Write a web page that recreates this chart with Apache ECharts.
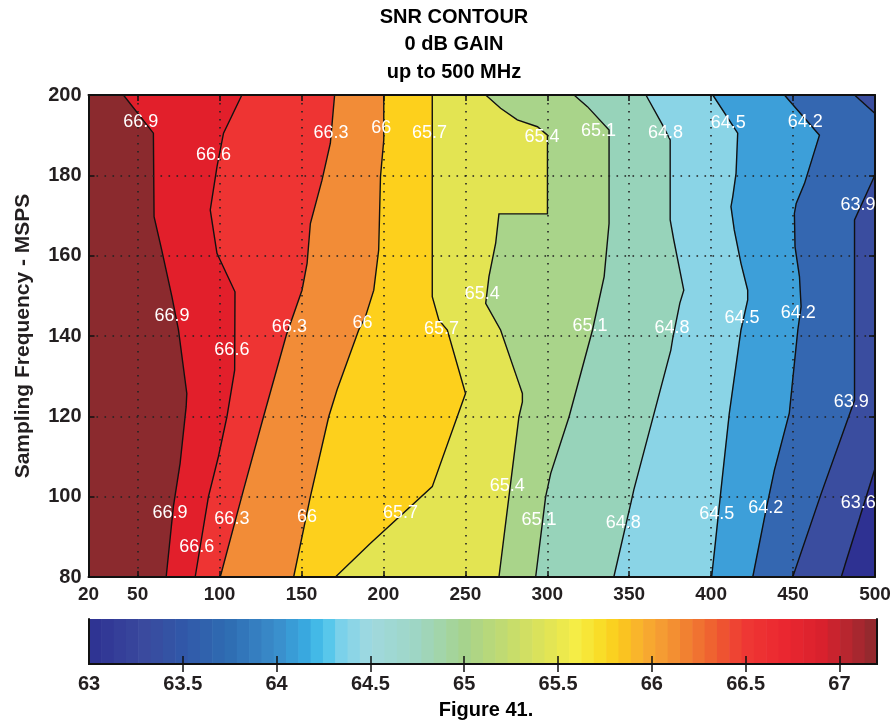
<!DOCTYPE html>
<html><head><meta charset="utf-8">
<script src="https://cdn.jsdelivr.net/npm/echarts@6/dist/echarts.min.js"></script>
<style>html,body{margin:0;padding:0;background:#fff}#c{width:896px;height:724px}</style>
</head><body><div id="c"></div>
<script>
// ---- axis ticks ----
const xTicks = [20, 50, 100, 150, 200, 250, 300, 350, 400, 450, 500];
const yTicks = [80, 100, 120, 140, 160, 180, 200];
const cbTicks = [63, 63.5, 64, 64.5, 65, 65.5, 66, 66.5, 67];

// ---- contour lines (x = input freq MHz, y = sampling freq MSPS), bottom -> top ----
const c669 = [[67.4,80],[71.8,97.5],[75.9,108.3],[79.6,122.4],[80,125.7],[74.9,141.5],[70.9,149.8],[64.7,161.4],[60,169.7],[59.6,190.5],[41.3,200]];
const c666 = [[85.1,80],[93.2,100],[99.3,110],[104.5,119.9],[109.2,131.5],[109.4,151],[98.4,160.6],[94.3,171.4],[98.4,182.1],[102.4,190.5],[113.6,200]];
const c663 = [[100.4,80],[114.6,101.7],[126.8,119.9],[140.7,140.2],[150.3,151.4],[153.4,158.1],[155.4,168],[162.5,178.8],[167.6,188],[170.2,200]];
const c660 = [[145.2,80],[155.4,100],[166.6,119.9],[171.7,126.6],[184.9,141.5],[189,144.8],[194.1,151.4],[197.1,161.4],[198.2,179.7],[200.2,188.8],[200.2,200]];
const c657 = [[170.7,80],[192.1,88.4],[229.8,102.5],[250.1,125.7],[239,141.5],[233.8,144],[229.8,149.8],[229.8,200]];
const c654 = [[270.5,80],[276.6,100],[282.7,119.9],[284.8,123.6],[284.8,125.7],[282.7,128.2],[271.5,141.5],[262.4,148.1],[264.4,154.8],[268.5,163.1],[270.5,170.4],[300.1,170.4],[300.1,190],[294,192.1],[281.7,193.8],[271.5,196.7],[262.4,200]];
const c651 = [[292.9,80],[299,100],[302.1,105.8],[313.3,119.9],[327.6,141.5],[334.7,154.8],[337.7,168],[337.7,191.3],[324.5,197.1],[316.3,200]];
const c648 = [[340.6,80],[351,98.4],[352.8,101.7],[375.4,136.5],[376.6,139.5],[380.9,148.2],[383.3,151.4],[377.2,163.9],[375,168.9],[375,188.8],[370.4,192.5],[360.2,200]];
const c645 = [[400.3,80],[402.3,87.5],[406,101.7],[411.1,120.8],[418.2,141.5],[422.3,149],[422.3,151.4],[418.2,158.1],[414.1,166.4],[412.1,172.2],[413.2,174.7],[415.2,180.5],[416.2,190.5],[401,200]];
const c642 = [[425.4,80],[433.5,96.7],[438.6,106.6],[447.7,120.8],[450.8,133.2],[452.9,141.5],[454.9,147.3],[453.9,154.8],[451.2,162.2],[450.8,170.5],[451.9,173],[457,178],[462,184.6],[466.1,190],[444.7,200]];
const c639a = [[487.5,200],[500,195.4]];
const c639b = [[449.8,80],[467.1,100.7],[487.5,124],[487.5,168.9],[500,180.1]];
const c636 = [[479.4,80],[500,107]];

const contours = [c669, c666, c663, c660, c657, c654, c651, c648, c645, c642, c639a, c639b, c636];
// fill colour of the region on the lower-SNR (right) side of each contour
const fillColors = ['#E21F2B','#EE3433','#F28C37','#FDD01C','#E3E452','#A9D48A','#97D3BA','#8AD4E6','#3D9FD9','#3467B1','#3A4D9F','#3A4D9F','#2E3192'];
const topColor = '#8B2A2E';

// ---- contour labels ----
const labelText = ['66.9','66.6','66.3','66','65.7','65.4','65.1','64.8','64.5','64.2','63.9',
                   '66.9','66.6','66.3','66','65.7','65.4','65.1','64.8','64.5','64.2','63.9',
                   '66.9','66.6','66.3','66','65.7','65.4','65.1','64.8','64.5','64.2','63.6'];
const labelX = [51.9,96.3,168,198.6,228.1,296.8,331.2,372.2,410.5,457.4,489.6,
                71,107.5,142.6,187.2,235.5,260.3,326,376.1,418.9,453.1,485.5,
                69.8,86.1,107.5,153.4,210.4,275.6,294.9,346.3,403.4,433.3,489.8];
const labelY = [193.3,185,190.5,191.8,190.5,189.5,191,190.5,193,193.3,172.6,
                145,136.5,142.2,143.2,141.7,150.4,142.5,142,144.5,145.7,123.6,
                95.9,87.5,94.4,94.9,95.9,102.7,94.2,93.4,95.7,97.2,98.4];

// ---- colour bar ----
const cbMin = 63, cbMax = 67.2, cbSteps = 64;
const cmapAt  = [63.00,63.30,63.50,63.75,64.00,64.15,64.25,64.35,64.50,64.75,65.00,65.25,65.45,65.60,65.72,65.82,65.95,66.05,66.20,66.35,66.50,66.70,66.90,67.05,67.20];
const cmapCol = ['#2E3192','#3A4A9E','#3158A8','#2F6DB3','#3A8DCB','#39A8DF','#48C2EC','#7ED2EA','#A0D9DF','#9ED6C4','#A6D38D','#C6DC6C','#E2E455','#F6EE45','#F9DE28','#FBCB1C','#F8AE2F','#F59C33','#F17E31','#EE5A30','#EE3834','#EB2730','#DA212D','#B5262F','#8C2A2E'];

function hex2rgb(h){return [parseInt(h.slice(1,3),16),parseInt(h.slice(3,5),16),parseInt(h.slice(5,7),16)];}
function cmap(v){
  if (v <= cmapAt[0]) return cmapCol[0];
  for (let i=1;i<cmapAt.length;i++){
    if (v <= cmapAt[i]){
      const t=(v-cmapAt[i-1])/(cmapAt[i]-cmapAt[i-1]);
      const a=hex2rgb(cmapCol[i-1]), b=hex2rgb(cmapCol[i]);
      return 'rgb('+a.map((c,k)=>Math.round(c+(b[k]-c)*t)).join(',')+')';
    }
  }
  return cmapCol[cmapCol.length-1];
}
const cbW = (cbMax-cbMin)/cbSteps;
const cbData = [], cbColors = [];
for (let k=0;k<cbSteps;k++){ cbData.push([cbMin+k*cbW, 0.5, k]); cbColors.push(cmap(cbMin+(k+0.5)*cbW)); }

const xMin = xTicks[0], xMax = xTicks[xTicks.length-1];
const yMin = yTicks[0], yMax = yTicks[yTicks.length-1];
function closeRight(pts){
  const f = pts[0], l = pts[pts.length-1];
  return pts.concat([[xMax, l[1]], [xMax, f[1]]]);
}

const FONT = 'Liberation Sans, Arial, sans-serif';
const TXT = '#231F20';
const chart = echarts.init(document.getElementById('c'), null, {renderer:'canvas'});

const frameLine = {show:true, lineStyle:{color:'#111', width:2}};
const dotted = {show:true, lineStyle:{color:'#222', width:1.6, type:[1.6,6.4]}};

chart.setOption({
  animation:false,
  backgroundColor:'#fff',
  graphic:[
    {type:'text', x:454, y:17, style:{text:'SNR CONTOUR', fill:'#000', fontSize:20, fontWeight:'bold', fontFamily:FONT, align:'center', verticalAlign:'middle', textAlign:'center', textVerticalAlign:'middle'}},
    {type:'text', x:454, y:44.5, style:{text:'0 dB GAIN', fill:'#000', fontSize:20, fontWeight:'bold', fontFamily:FONT, align:'center', verticalAlign:'middle', textAlign:'center', textVerticalAlign:'middle'}},
    {type:'text', x:454, y:72, style:{text:'up to 500 MHz', fill:'#000', fontSize:20, fontWeight:'bold', fontFamily:FONT, align:'center', verticalAlign:'middle', textAlign:'center', textVerticalAlign:'middle'}},
    {type:'text', x:486, y:710, style:{text:'Figure 41.', fill:'#000', fontSize:20, fontWeight:'bold', fontFamily:FONT, align:'center', verticalAlign:'middle', textAlign:'center', textVerticalAlign:'middle'}}
  ],
  grid:[
    {left:88.5, right:21, top:95, bottom:147, show:true, backgroundColor:topColor, borderWidth:0, outerBoundsMode:'none'},
    {left:89, right:19, top:619, height:45, show:false, outerBoundsMode:'none'}
  ],
  xAxis:[
    {gridIndex:0, type:'value', min:xMin, max:xMax, position:'bottom', z:5,
     axisLine:frameLine,
     axisTick:{show:true, inside:true, length:6, customValues:xTicks, lineStyle:{color:'#111', width:1.5}},
     axisLabel:{show:true, customValues:xTicks, margin:8, fontSize:19, fontWeight:'bold', fontFamily:FONT, color:TXT},
     splitLine:dotted},
    {gridIndex:0, type:'value', min:xMin, max:xMax, position:'top', z:5,
     axisLine:frameLine,
     axisTick:{show:true, inside:true, length:6, customValues:xTicks, lineStyle:{color:'#111', width:1.5}},
     axisLabel:{show:false}, splitLine:{show:false}},
    {gridIndex:1, type:'value', min:cbMin, max:cbMax, position:'bottom', z:5,
     axisLine:frameLine,
     axisTick:{show:true, inside:true, length:8, customValues:cbTicks.slice(1), lineStyle:{color:'#111', width:1.5}},
     axisLabel:{show:true, customValues:cbTicks, margin:10, fontSize:20, fontWeight:'bold', fontFamily:FONT, color:TXT},
     splitLine:{show:false}},
    {gridIndex:1, type:'value', min:cbMin, max:cbMax, position:'top', z:5,
     axisLine:frameLine,
     axisTick:{show:true, inside:true, length:8, customValues:cbTicks.slice(1), lineStyle:{color:'#111', width:1.5}},
     axisLabel:{show:false}, splitLine:{show:false}}
  ],
  yAxis:[
    {gridIndex:0, type:'value', min:yMin, max:yMax, interval:20, position:'left', z:5,
     name:'Sampling Frequency - MSPS', nameLocation:'middle', nameGap:55,
     nameTextStyle:{fontSize:21, fontWeight:'bold', fontFamily:FONT, color:TXT},
     axisLine:frameLine,
     axisTick:{show:true, inside:true, length:6, lineStyle:{color:'#111', width:1.5}},
     axisLabel:{show:true, margin:7, fontSize:20, fontWeight:'bold', fontFamily:FONT, color:TXT},
     splitLine:dotted},
    {gridIndex:0, type:'value', min:yMin, max:yMax, interval:20, position:'right', z:5,
     axisLine:frameLine,
     axisTick:{show:true, inside:true, length:6, lineStyle:{color:'#111', width:1.5}},
     axisLabel:{show:false}, splitLine:{show:false}},
    {gridIndex:1, type:'value', min:0, max:1, position:'left', z:5,
     axisLine:frameLine, axisTick:{show:false}, axisLabel:{show:false}, splitLine:{show:false}},
    {gridIndex:1, type:'value', min:0, max:1, position:'right', z:5,
     axisLine:frameLine, axisTick:{show:false}, axisLabel:{show:false}, splitLine:{show:false}}
  ],
  series:[
    {type:'custom', name:'fills', xAxisIndex:0, yAxisIndex:0, z:1, silent:true,
     data: contours.map((c,i)=>[c[0][0], c[0][1], i]),
     renderItem:function(params, api){
       const i = params.dataIndex;
       const pts = closeRight(contours[i]).map(p=>api.coord(p));
       return {type:'polygon', shape:{points:pts}, style:{fill:fillColors[i], stroke:fillColors[i], lineWidth:0.5}};
     }},
    {type:'custom', name:'contours', xAxisIndex:0, yAxisIndex:0, z:3, silent:true,
     data: contours.map((c,i)=>[c[0][0], c[0][1], i]),
     renderItem:function(params, api){
       const i = params.dataIndex;
       return {type:'polyline', shape:{points:contours[i].map(p=>api.coord(p))}, style:{stroke:'#111', lineWidth:1.4, fill:null}};
     }},
    {type:'custom', name:'labels', xAxisIndex:0, yAxisIndex:0, z:10, silent:true, clip:true,
     data: labelX.map((x,i)=>[x, labelY[i], i]),
     renderItem:function(params, api){
       const i = params.dataIndex;
       const p = api.coord([api.value(0), api.value(1)]);
       return {type:'text', x:p[0], y:p[1], z2:10,
         style:{text:labelText[i], fill:'#fff', fontSize:18, fontFamily:FONT, align:'center', verticalAlign:'middle', textAlign:'center', textVerticalAlign:'middle'}};
     }},
    {type:'custom', name:'colorbar', xAxisIndex:2, yAxisIndex:2, z:1, silent:true,
     data: cbData,
     renderItem:function(params, api){
       const k = params.dataIndex;
       const x0 = api.value(0);
       const a = api.coord([x0, 0]);
       const b = api.coord([x0 + cbW, 1]);
       return {type:'rect', shape:{x:a[0], y:b[1], width:b[0]-a[0]+0.6, height:a[1]-b[1]}, style:{fill:cbColors[k]}};
     }}
  ]
});
</script></body></html>
